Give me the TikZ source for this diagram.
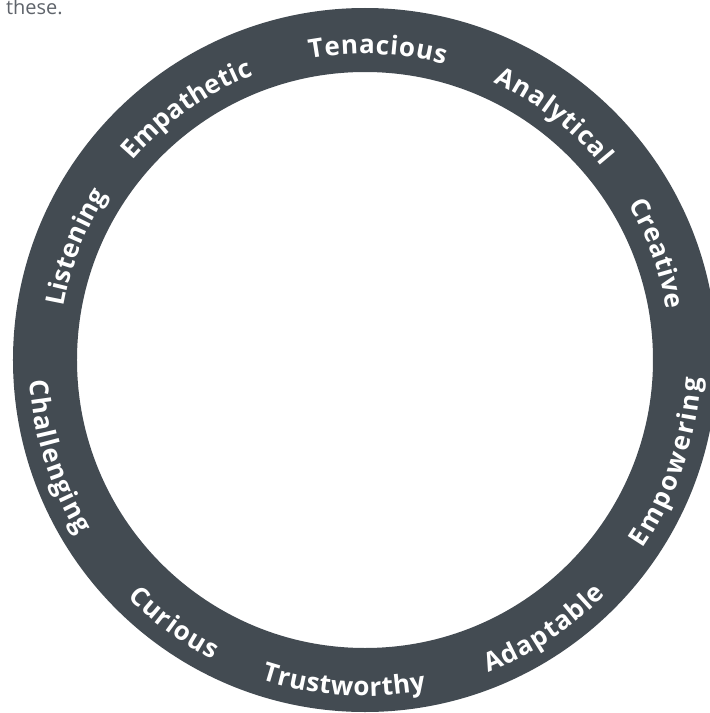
\documentclass[tikz,border=0pt]{standalone}
\usepackage{fontspec}
\setmainfont{Open Sans}
\usetikzlibrary{decorations.text}

\definecolor{ringgray}{HTML}{434B52}
\definecolor{leadgray}{HTML}{5F646B}

\newcommand{\wordfont}{\color{white}\bfseries\fontsize{26}{30}\selectfont}

\tikzset{
    ringtext/.style={decorate, decoration={text along path, text align=fit to path, text={|\wordfont|#1}}}
}

\begin{document}
\begin{tikzpicture}[x=1pt,y=1pt]
            \useasboundingbox (-365,360) rectangle (345,-353);

            \node[anchor=base east, inner sep=0pt, text=leadgray, font=\fontsize{20}{24}\selectfont] (lead) at (-302,345) {n these.};

            \coordinate (c) at (0,0);
            \draw[ringgray, line width=64pt] (c) circle (320);

            % upper words, read clockwise
            \path[ringtext=Tenacious]  (100.4:306) arc[start angle=100.4, end angle=74.9, radius=306];
            \path[ringtext=Analytical] (65.1:306)  arc[start angle=65.1,  end angle=39.3, radius=306];
            \path[ringtext=Creative]   (30.5:306)  arc[start angle=30.5,  end angle=9.5,  radius=306];
            \path[ringtext=Listening]  (170:306)   arc[start angle=170,   end angle=147.3, radius=306];
            \path[ringtext=Empathetic] (139.4:306) arc[start angle=139.4, end angle=111.4, radius=306];

            % lower words, read counterclockwise
            \path[ringtext=Empowering]  (-34.2:336) arc[start angle=-34.2, end angle=-3.1,  radius=336];
            \path[ringtext=Adaptable]   (-68.5:336) arc[start angle=-68.5, end angle=-44.2, radius=336];
            \path[ringtext=Trustworthy] (-108:336)  arc[start angle=-108,  end angle=-79.5, radius=336];
            \path[ringtext=Curious]     (-135:336)  arc[start angle=-135,  end angle=-117,  radius=336];
            \path[ringtext=Challenging] (183.5:336) arc[start angle=183.5, end angle=211.4, radius=336];
\end{tikzpicture}
\end{document}
